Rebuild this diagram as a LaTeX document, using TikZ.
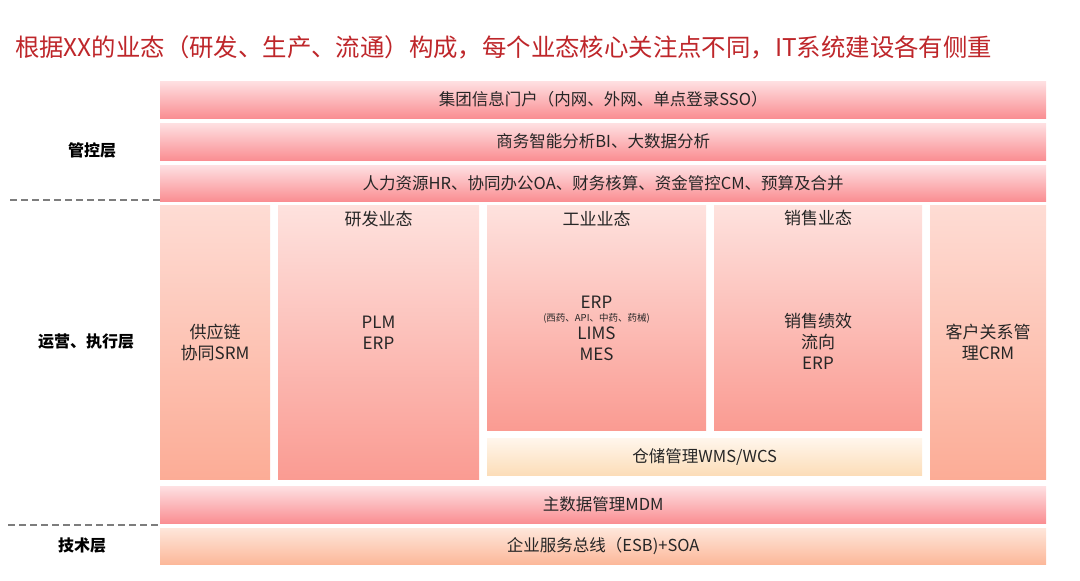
\documentclass[tikz,border=0pt]{standalone}
\usepackage{fontspec}
\setmainfont{Noto Sans CJK SC}

\definecolor{titlered}{RGB}{190,38,42}
\definecolor{txt}{RGB}{38,38,38}
\definecolor{dashgray}{RGB}{125,125,125}
\definecolor{bandtop}{RGB}{254,224,226}
\definecolor{bandbot}{RGB}{250,142,146}
\definecolor{coltop}{RGB}{254,226,222}
\definecolor{colbot}{RGB}{250,155,146}
\definecolor{sidetop}{RGB}{254,220,212}
\definecolor{sidebot}{RGB}{252,172,150}
\definecolor{whtop}{RGB}{255,246,236}
\definecolor{whbot}{RGB}{252,221,184}
\definecolor{esbtop}{RGB}{254,230,218}
\definecolor{esbbot}{RGB}{252,184,154}

\begin{document}
\begin{tikzpicture}[x=1pt,y=-1pt,
  box/.style={rectangle,anchor=north west,inner sep=0pt,text=txt,
    font=\fontsize{16.5}{20}\selectfont},
  band/.style={box,top color=bandtop,bottom color=bandbot,
    minimum width=886pt,minimum height=37pt},
  column/.style={box,top color=coltop,bottom color=colbot},
  sidecol/.style={box,top color=sidetop,bottom color=sidebot},
  body/.style={align=center,inner sep=0pt,text=txt,
    font=\fontsize{17}{21}\selectfont},
  layer/.style={inner sep=0pt,text=black,font=\fontsize{16}{19}\selectfont\bfseries},
  sep/.style={dashgray,line width=1.6pt,dash pattern=on 7pt off 4pt}]

\useasboundingbox (0,0) rectangle (1080,581);

% Title
\node[anchor=west,inner sep=0pt,text=titlered,font=\fontsize{24.4}{28}\selectfont]
  (title) at (15,47) {根据XX的业态（研发、生产、流通）构成，每个业态核心关注点不同，IT系统建设各有侧重};

% Control layer
\node[band] (portal) at (160,81) {集团信息门户（内网、外网、单点登录SSO）};
\node[band] (bi) at (160,123) {商务智能分析BI、大数据分析};
\node[band,minimum height=36pt] (hr) at (160,165) {人力资源HR、协同办公OA、财务核算、资金管控CM、预算及合并};

% Operation layer
\node[sidecol,minimum width=110pt,minimum height=274pt] (srm) at (160,205) {};
\node[column,minimum width=201pt,minimum height=274pt] (rnd) at (278,205) {};
\node[column,minimum width=219pt,minimum height=225pt] (ind) at (487,205) {};
\node[column,minimum width=208pt,minimum height=225pt] (sales) at (714,205) {};
\node[box,top color=whtop,bottom color=whbot,minimum width=435pt,minimum height=37pt]
  (wms) at (487,438) {仓储管理WMS/WCS};
\node[sidecol,minimum width=116pt,minimum height=274pt] (crm) at (930,205) {};

\node[body] (srmtxt) at (215,342) {供应链\\协同SRM};
\node[body] (rndhead) at (378.5,219) {研发业态};
\node[body] (rndtxt) at (378.5,333) {PLM\\ERP};
\node[body] (indhead) at (596.5,219) {工业业态};
\node[body] (inderp) at (596.5,302) {ERP};
\node[body,font=\fontsize{9.5}{10}\selectfont] (indnote) at (596.5,318) {(西药、API、中药、药械)};
\node[body] (indtxt) at (596.5,344) {LIMS\\MES};
\node[body] (saleshead) at (818,218) {销售业态};
\node[body] (salestxt) at (818,341) {销售绩效\\流向\\ERP};
\node[body] (crmtxt) at (988,342) {客户关系管\\理CRM};

% Technical layer
\node[band] (mdm) at (160,486) {主数据管理MDM};
\node[box,top color=esbtop,bottom color=esbbot,minimum width=886pt,minimum height=36pt]
  (esb) at (160,528) {企业服务总线（ESB)+SOA};

% Layer labels
\node[layer] (ctrl) at (92,150) {管控层};
\node[layer] (oper) at (86,342) {运营、执行层};
\node[layer] (tech) at (82,546) {技术层};

\coordinate (s1) at (10,200);
\coordinate (s2) at (8,525);
\draw[sep] (s1) -- (s1 -| srm.west);
\draw[sep] (s2) -- (s2 -| mdm.west);

\end{tikzpicture}
\end{document}
